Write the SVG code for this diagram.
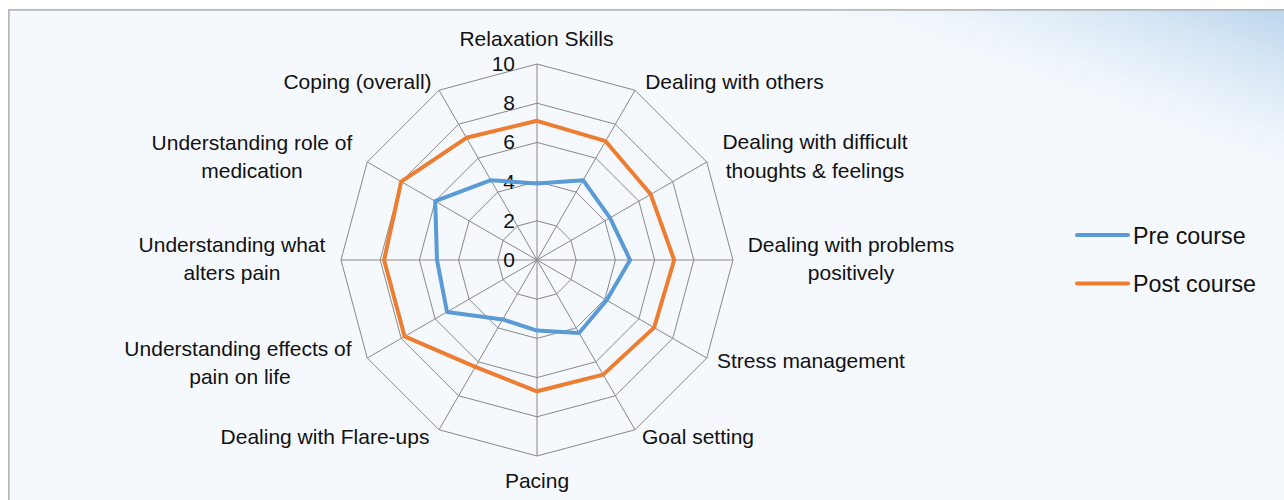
<svg xmlns="http://www.w3.org/2000/svg" width="1284" height="500" viewBox="0 0 1284 500">
  <defs>
    <linearGradient id="bgGrad" gradientUnits="userSpaceOnUse" x1="1226" y1="170" x2="1284" y2="10">
      <stop offset="0" stop-color="#F5F9FD"/>
      <stop offset="0.3" stop-color="#EDF4FA"/>
      <stop offset="0.65" stop-color="#D8E7F5"/>
      <stop offset="1" stop-color="#BCD6EE"/>
    </linearGradient>
  </defs>
  <style>
    .grid { fill: none; stroke: #888888; stroke-width: 1; }
    .axis { stroke: #888888; stroke-width: 1; }
    .lbl { font-family: "Liberation Sans", Arial, sans-serif; font-size: 21px; fill: #111111; text-anchor: middle; }
    .tick { font-family: "Liberation Sans", Arial, sans-serif; font-size: 21px; fill: #111111; text-anchor: end; }
    .leg { font-family: "Liberation Sans", Arial, sans-serif; font-size: 23.3px; fill: #111111; }
    .pre { fill: none; stroke: #5B9BD5; stroke-width: 4; stroke-linejoin: round; stroke-linecap: round; }
    .post { fill: none; stroke: #ED7D31; stroke-width: 4; stroke-linejoin: round; stroke-linecap: round; }
  </style>

  <rect x="0" y="0" width="1284" height="500" fill="#FFFFFF"/>
  <rect id="frame" x="9" y="10" width="1290" height="500" fill="#F5F9FD" stroke="#A0A0A0" stroke-width="1.5"/>
  <rect x="9.75" y="10.75" width="1290" height="500" fill="url(#bgGrad)"/>

  <g id="grid">
    <polygon class="grid" points="537,220.8 556.6,226.05 570.95,240.4 576.2,260 570.95,279.6 556.6,293.95 537,299.2 517.4,293.95 503.05,279.6 497.8,260 503.05,240.4 517.4,226.05"/>
    <polygon class="grid" points="537,181.6 576.2,192.1 604.9,220.8 615.4,260 604.9,299.2 576.2,327.9 537,338.4 497.8,327.9 469.1,299.2 458.6,260 469.1,220.8 497.8,192.1"/>
    <polygon class="grid" points="537,142.4 595.8,158.16 638.84,201.2 654.6,260 638.84,318.8 595.8,361.84 537,377.6 478.2,361.84 435.16,318.8 419.4,260 435.16,201.2 478.2,158.16"/>
    <polygon class="grid" points="537,103.2 615.4,124.21 672.79,181.6 693.8,260 672.79,338.4 615.4,395.79 537,416.8 458.6,395.79 401.21,338.4 380.2,260 401.21,181.6 458.6,124.21"/>
    <polygon class="grid" points="537,64 635,90.26 706.74,162 733,260 706.74,358 635,429.74 537,456 439,429.74 367.26,358 341,260 367.26,162 439,90.26"/>
  </g>

  <g id="connectors">
    <line class="axis" x1="537" y1="260" x2="537" y2="64"/>
    <line class="axis" x1="537" y1="260" x2="635" y2="90.26"/>
    <line class="axis" x1="537" y1="260" x2="706.74" y2="162"/>
    <line class="axis" x1="537" y1="260" x2="733" y2="260"/>
    <line class="axis" x1="537" y1="260" x2="706.74" y2="358"/>
    <line class="axis" x1="537" y1="260" x2="635" y2="429.74"/>
    <line class="axis" x1="537" y1="260" x2="537" y2="456"/>
    <line class="axis" x1="537" y1="260" x2="439" y2="429.74"/>
    <line class="axis" x1="537" y1="260" x2="367.26" y2="358"/>
    <line class="axis" x1="537" y1="260" x2="341" y2="260"/>
    <line class="axis" x1="537" y1="260" x2="367.26" y2="162"/>
    <line class="axis" x1="537" y1="260" x2="439" y2="90.26"/>
  </g>

  <g id="ticks">
    <text class="tick" x="515" y="267">0</text>
    <text class="tick" x="515" y="227.8">2</text>
    <text class="tick" x="515" y="188.6">4</text>
    <text class="tick" x="515" y="149.4">6</text>
    <text class="tick" x="515" y="110.2">8</text>
    <text class="tick" x="515" y="71">10</text>
  </g>

  <g id="series-pre">
    <polygon class="pre" points="537,183.6 583.1,180.2 610,217.9 630.1,260 606.6,300.2 579.1,333 537,330.6 502.7,319.4 447,311.9 437,260 435.2,201.2 490.9,180.2"/>
  </g>
  <g id="series-post">
    <polygon class="post" points="537,120.8 605.6,141.2 650.7,194.3 674.2,260 654.1,327.6 603.2,374.6 537,391.3 475.3,366.9 404.6,336.4 384.1,260 401.2,181.6 466.4,137.8"/>
  </g>

  <g id="labels">
    <text class="lbl" x="536.5" y="46">Relaxation Skills</text>
    <text class="lbl" x="734.5" y="89">Dealing with others</text>
    <text class="lbl" x="815" y="149">Dealing with difficult</text>
    <text class="lbl" x="815" y="178">thoughts &amp; feelings</text>
    <text class="lbl" x="851" y="251.5">Dealing with problems</text>
    <text class="lbl" x="851" y="280">positively</text>
    <text class="lbl" x="811" y="368">Stress management</text>
    <text class="lbl" x="698" y="444">Goal setting</text>
    <text class="lbl" x="537" y="488">Pacing</text>
    <text class="lbl" x="325" y="444">Dealing with Flare-ups</text>
    <text class="lbl" x="238" y="356">Understanding effects of</text>
    <text class="lbl" x="240" y="384">pain on life</text>
    <text class="lbl" x="232" y="251.5">Understanding what</text>
    <text class="lbl" x="232" y="280">alters pain</text>
    <text class="lbl" x="252" y="150">Understanding role of</text>
    <text class="lbl" x="252" y="178.3">medication</text>
    <text class="lbl" x="357.5" y="89">Coping (overall)</text>
  </g>

  <g id="legend">
    <line x1="1077" y1="235" x2="1128" y2="235" stroke="#5B9BD5" stroke-width="4" stroke-linecap="round"/>
    <text class="leg" x="1133" y="243.5">Pre course</text>
    <line x1="1077" y1="283.5" x2="1128" y2="283.5" stroke="#ED7D31" stroke-width="4" stroke-linecap="round"/>
    <text class="leg" x="1133" y="291.5">Post course</text>
  </g>
</svg>
